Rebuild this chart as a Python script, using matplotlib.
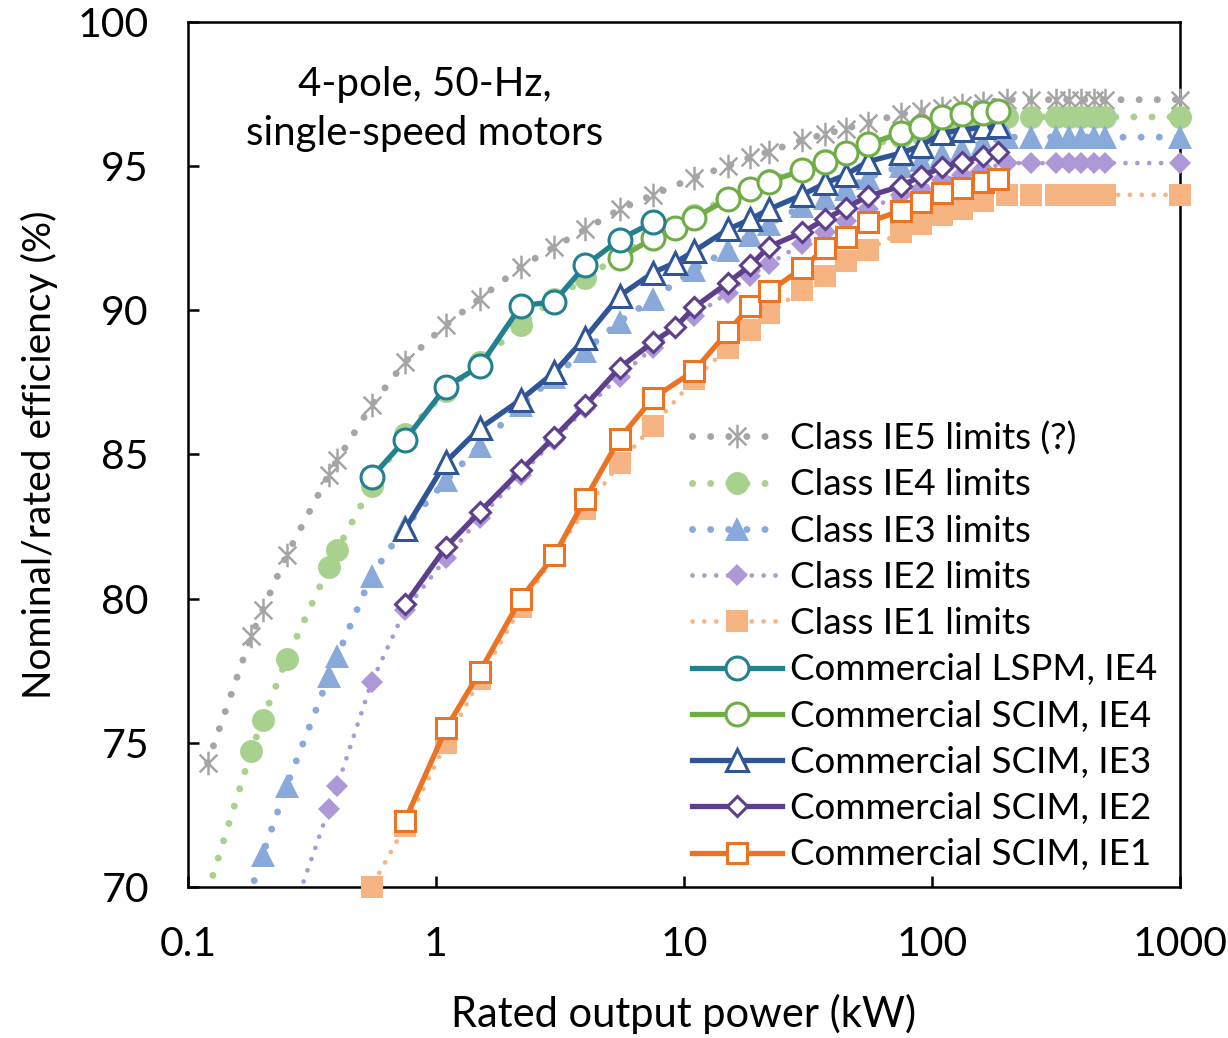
import numpy as np
import matplotlib
matplotlib.use('Agg')
import matplotlib.pyplot as plt
from matplotlib.path import Path
from matplotlib.lines import Line2D

plt.rcParams['font.family'] = ['Lato', 'DejaVu Sans']

# IEC class limits, 4-pole 50 Hz
kw_lim = [0.12, 0.18, 0.2, 0.25, 0.37, 0.4, 0.55, 0.75, 1.1, 1.5, 2.2, 3, 4, 5.5, 7.5, 11, 15, 18.5,
          22, 30, 37, 45, 55, 75, 90, 110, 132, 160, 200, 250, 315, 355, 400, 450, 500, 1000]
ie5_lim = [74.3, 78.7, 79.6, 81.5, 84.3, 84.8, 86.7, 88.2, 89.5, 90.4, 91.5, 92.2, 92.8, 93.5, 94.0, 94.6, 95.0, 95.3,
           95.5, 95.9, 96.1, 96.3, 96.5, 96.8, 96.9, 97.0, 97.1, 97.2, 97.3, 97.3, 97.3, 97.3, 97.3, 97.3, 97.3, 97.3]
ie4_lim = [69.8, 74.7, 75.8, 77.9, 81.1, 81.7, 83.9, 85.7, 87.2, 88.2, 89.5, 90.4, 91.1, 91.9, 92.6, 93.3, 93.9, 94.2,
           94.5, 94.9, 95.2, 95.4, 95.7, 96.0, 96.1, 96.3, 96.4, 96.6, 96.7, 96.7, 96.7, 96.7, 96.7, 96.7, 96.7, 96.7]
ie3_lim = [64.8, 69.9, 71.1, 73.5, 77.3, 78.0, 80.8, 82.5, 84.1, 85.3, 86.7, 87.7, 88.6, 89.6, 90.4, 91.4, 92.1, 92.6,
           93.0, 93.6, 93.9, 94.2, 94.6, 95.0, 95.2, 95.4, 95.6, 95.8, 96.0, 96.0, 96.0, 96.0, 96.0, 96.0, 96.0, 96.0]
ie2_lim = [59.1, 64.7, 65.9, 68.5, 72.7, 73.5, 77.1, 79.6, 81.4, 82.8, 84.3, 85.5, 86.6, 87.7, 88.7, 89.8, 90.6, 91.2,
           91.6, 92.3, 92.7, 93.1, 93.5, 94.0, 94.2, 94.5, 94.7, 94.9, 95.1, 95.1, 95.1, 95.1, 95.1, 95.1, 95.1, 95.1]
ie1_lim = [50.0, 57.0, 58.5, 61.5, 66.0, 66.8, 70.0, 72.1, 75.0, 77.2, 79.7, 81.5, 83.1, 84.7, 86.0, 87.6, 88.7, 89.3,
           89.9, 90.7, 91.2, 91.7, 92.1, 92.7, 93.0, 93.3, 93.5, 93.8, 94.0, 94.0, 94.0, 94.0, 94.0, 94.0, 94.0, 94.0]

# commercial motors
kw_lspm = [0.55, 0.75, 1.1, 1.5, 2.2, 3, 4, 5.5, 7.5]
eff_lspm = [84.2, 85.5, 87.35, 88.05, 90.15, 90.3, 91.55, 92.45, 93.05]

kw_scim4 = [5.5, 7.5, 9.2, 11, 15, 18.5, 22, 30, 37, 45, 55, 75, 90, 110, 132, 160, 185]
eff_scim4 = [91.8, 92.5, 92.85, 93.2, 93.85, 94.2, 94.45, 94.85, 95.15, 95.45, 95.75, 96.15, 96.35, 96.7, 96.8,
             96.85, 96.9]

kw_scim3 = [0.75, 1.1, 1.5, 2.2, 3, 4, 5.5, 7.5, 9.2, 11, 15, 18.5, 22, 30, 37, 45, 55, 75, 90, 110, 132, 160, 185]
eff_scim3 = [82.4, 84.75, 85.9, 86.9, 87.85, 89.05, 90.5, 91.3, 91.65, 92.05, 92.8, 93.15, 93.5, 94.0, 94.4, 94.7,
             95.15, 95.45, 95.7, 96.15, 96.25, 96.35, 96.4]

kw_scim2 = [0.75, 1.1, 1.5, 2.2, 3, 4, 5.5, 7.5, 9.2, 11, 15, 18.5, 22, 30, 37, 45, 55, 75, 90, 110, 132, 160, 185]
eff_scim2 = [79.8, 81.8, 83.0, 84.45, 85.6, 86.7, 88.0, 88.9, 89.4, 90.1, 90.95, 91.55, 92.2, 92.7, 93.15, 93.55,
             93.95, 94.3, 94.65, 94.95, 95.15, 95.35, 95.5]

kw_scim1 = [0.75, 1.1, 1.5, 2.2, 3, 4, 5.5, 7.5, 11, 15, 18.5, 22, 30, 37, 45, 55, 75, 90, 110, 132, 160, 185]
eff_scim1 = [72.3, 75.5, 77.45, 80.0, 81.5, 83.45, 85.55, 86.95, 87.9, 89.25, 90.15, 90.65, 91.45, 92.15, 92.55,
             93.05, 93.45, 93.75, 94.05, 94.25, 94.45, 94.55]

# excel-like star marker: vertical bar + X
star = Path([(0, -1), (0, 1), (-0.75, -0.75), (0.75, 0.75), (-0.75, 0.75), (0.75, -0.75)],
            [Path.MOVETO, Path.LINETO, Path.MOVETO, Path.LINETO, Path.MOVETO, Path.LINETO])

fig = plt.figure(figsize=(12.28, 10.38), dpi=100)
ax = fig.add_axes([0.153, 0.1455, 0.808, 0.8335])

handles = []

# limits: dotted line + filled markers
limits = [
    ('Class IE5 limits (?)', ie5_lim, '#A5A5A5', star, 17, 5.0, 2.6),
    ('Class IE4 limits', ie4_lim, '#A9D18E', 'o', 16.5, 5.0, 2.6),
    ('Class IE3 limits', ie3_lim, '#8AA9DB', '^', 17, 5.0, 2.6),
    ('Class IE2 limits', ie2_lim, '#AE97D6', 'D', 11.5, 3.4, 2.5),
    ('Class IE1 limits', ie1_lim, '#F6B483', 's', 16, 3.4, 2.5),
]
for lab, vals, col, mk, ms, lw, gap in limits:
    kw = np.array(kw_lim)
    v = np.array(vals)
    ax.plot(kw, v, color=col, lw=lw, linestyle=(0, (0.01, gap)), dash_capstyle='round', zorder=2)
    vis = v >= 70
    if mk is star:
        ax.plot(kw[vis], v[vis], linestyle='none', marker=mk, ms=ms, mec=col, mfc='none', mew=1.8,
                clip_on=False, zorder=3)
        h = Line2D([], [], color=col, lw=lw, linestyle=(0, (0.01, gap)), dash_capstyle='round',
                   marker=mk, ms=ms, mec=col, mfc='none', mew=1.8)
    else:
        ax.plot(kw[vis], v[vis], linestyle='none', marker=mk, ms=ms, mec=col, mfc=col, mew=0,
                clip_on=False, zorder=3)
        h = Line2D([], [], color=col, lw=lw, linestyle=(0, (0.01, gap)), dash_capstyle='round',
                   marker=mk, ms=ms, mec=col, mfc=col, mew=0)
    handles.append((h, lab))

# commercial motors: solid line + open markers
commercial = [
    ('Commercial LSPM, IE4', kw_lspm, eff_lspm, '#23808F', 'o', 16.5),
    ('Commercial SCIM, IE4', kw_scim4, eff_scim4, '#70AD47', 'o', 16.5),
    ('Commercial SCIM, IE3', kw_scim3, eff_scim3, '#2F5597', '^', 16.5),
    ('Commercial SCIM, IE2', kw_scim2, eff_scim2, '#5E3F8E', 'D', 10.5),
    ('Commercial SCIM, IE1', kw_scim1, eff_scim1, '#EA7424', 's', 14),
]
for lab, kw, vals, col, mk, ms in commercial[::-1]:
    ax.plot(kw, vals, color=col, lw=3.8, marker=mk, ms=ms, mfc='white', mec=col, mew=2.2,
            zorder=5, clip_on=False)
for lab, kw, vals, col, mk, ms in commercial:
    h = Line2D([], [], color=col, lw=3.8, marker=mk, ms=ms, mfc='white', mec=col, mew=2.2)
    handles.append((h, lab))

ax.set_xscale('log')
ax.set_xlim(0.1, 1000)
ax.set_ylim(70, 100)
ax.set_xticks([0.1, 1, 10, 100, 1000])
ax.set_xticklabels(['0.1', '1', '10', '100', '1000'])
ax.xaxis.set_minor_locator(matplotlib.ticker.NullLocator())
ax.set_yticks([70, 75, 80, 85, 90, 95, 100])
ax.tick_params(axis='both', direction='in', length=8, width=1.8, labelsize=29.5, pad=28, colors='black')
for s in ax.spines.values():
    s.set_linewidth(1.8)

ax.set_xlabel('Rated output power (kW)', fontsize=30, labelpad=22)
ax.set_ylabel('Nominal/rated efficiency (%)', fontsize=28, labelpad=14)

ax.text(0.239, 0.899, '4-pole, 50-Hz,\nsingle-speed motors', transform=ax.transAxes,
        ha='center', va='center', fontsize=29, linespacing=1.38)

ax.legend([h for h, l in handles], [l for h, l in handles], loc='lower left',
          bbox_to_anchor=(0.508, 0.018), frameon=False, fontsize=26.5, numpoints=1,
          handlelength=2.45, handletextpad=0.22, labelspacing=0.36, borderaxespad=0, borderpad=0)

fig.savefig('out.png', dpi=100)
